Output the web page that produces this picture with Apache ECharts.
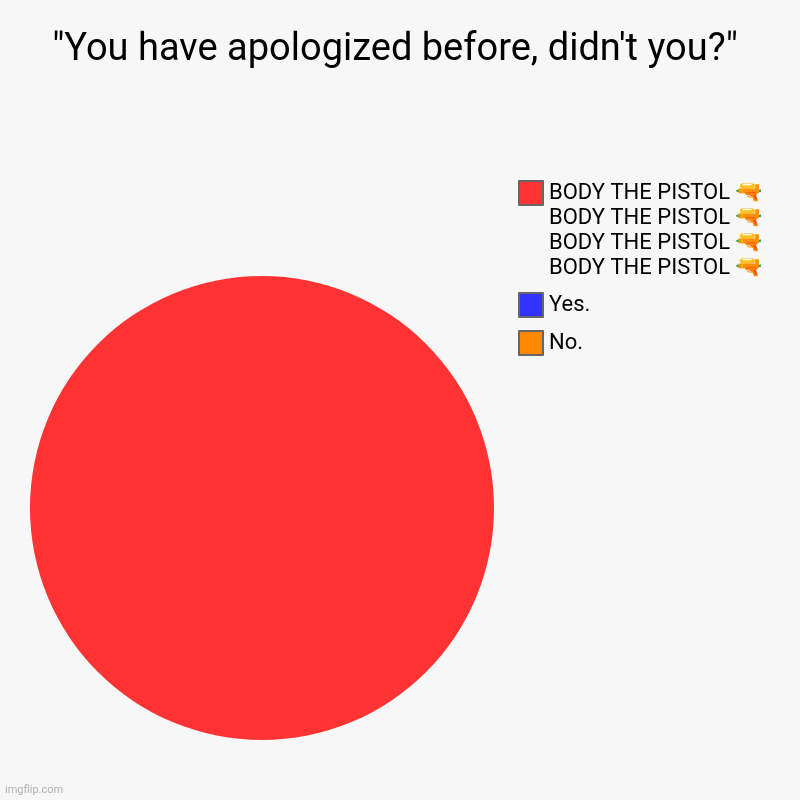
<!DOCTYPE html>
<html><head><meta charset="utf-8">
<script src="https://cdn.jsdelivr.net/npm/echarts@6/dist/echarts.min.js"></script>
<style>html,body{margin:0;padding:0;background:#f8f8f8}#c{width:800px;height:800px}</style>
</head><body><div id="c"></div>
<script>
const titleText = '"You have apologized before, didn\'t you?"';
const categories = ['No.', 'Yes.', 'BODY THE PISTOL 🔫\nBODY THE PISTOL 🔫\nBODY THE PISTOL 🔫\nBODY THE PISTOL 🔫'];
const values = [0, 0, 100];
const colors = ['#ff8800', '#3333ff', '#ff3333'];
const watermark = 'imgflip.com';

const chart = echarts.init(document.getElementById('c'), null, {renderer: 'canvas'});
const legendBase = {
  orient: 'vertical', left: 518, itemWidth: 24, itemGap: 12, padding: 0,
  textStyle: {fontFamily: 'Roboto, "Noto Sans CJK SC", sans-serif', fontSize: 22, color: '#000', lineHeight: 25, padding: [0, 0, 0, 1]},
  itemStyle: {borderColor: '#666666', borderWidth: 2},
  selectedMode: false
};
chart.setOption({
  backgroundColor: '#f7f7f7',
  animation: false,
  title: {
    text: titleText, left: 395, textAlign: 'center', top: 31, padding: 0,
    textStyle: {fontFamily: 'Roboto', fontSize: 38, fontWeight: 'normal', color: '#000'}
  },
  legend: [
    Object.assign({}, legendBase, {
      top: 180, itemHeight: 100,
      data: [{name: categories[2], icon: 'path://M0 0H24V24H0Z M0 100L0 100'}]
    }),
    Object.assign({}, legendBase, {
      top: 292, itemHeight: 24, icon: 'rect',
      data: [categories[1], categories[0]]
    })
  ],
  graphic: [{
    type: 'text', left: 5, top: 785,
    style: {text: watermark, fontFamily: 'Roboto', fontSize: 11, fill: '#b0b0b0'}
  }],
  series: [{
    type: 'pie',
    center: [262, 508],
    radius: [0, 232],
    clockwise: true,
    label: {show: false},
    labelLine: {show: false},
    emphasis: {disabled: true},
    data: categories.map((n, i) => ({name: n, value: values[i], itemStyle: {color: colors[i]}}))
  }]
});
</script></body></html>
